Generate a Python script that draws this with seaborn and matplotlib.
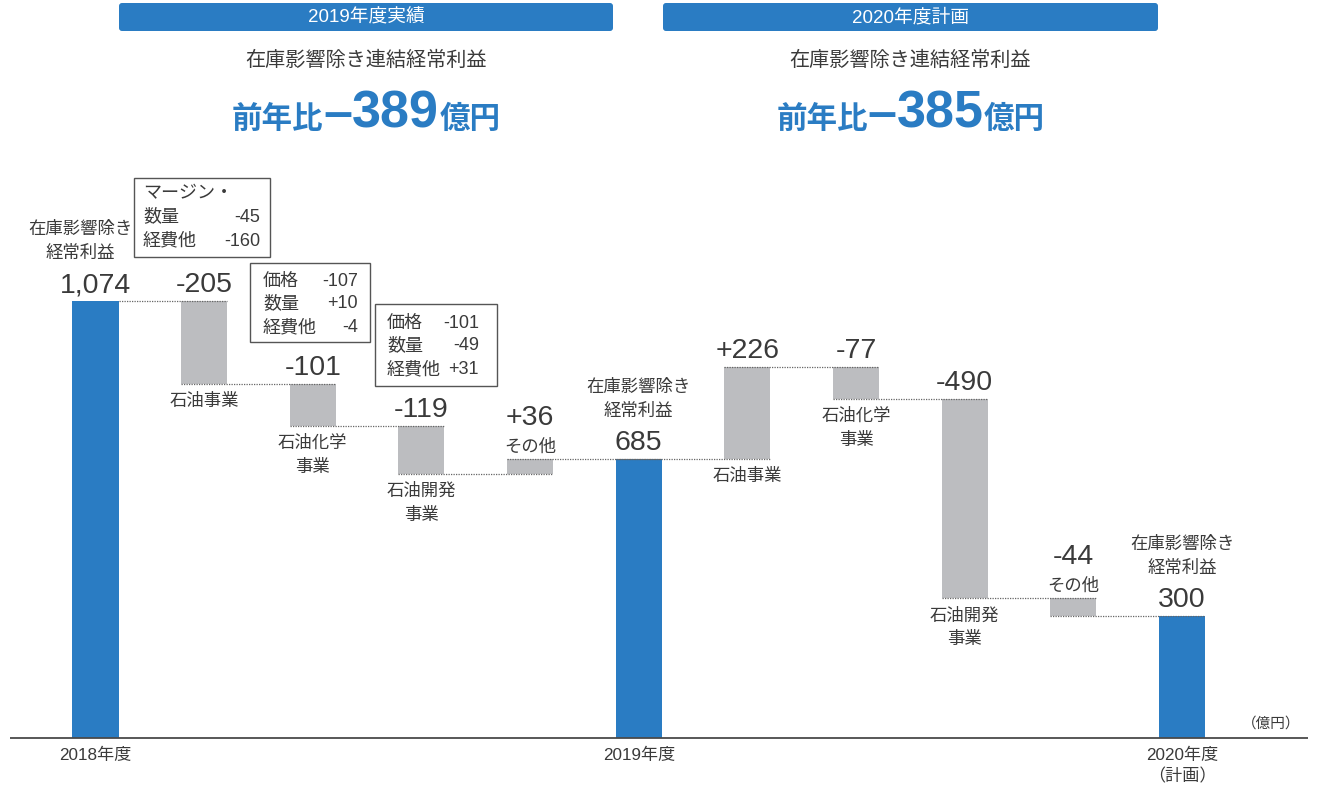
import matplotlib
matplotlib.use("Agg")
import matplotlib.pyplot as plt
import matplotlib.transforms as mtransforms
from matplotlib.patches import FancyBboxPatch, Rectangle
import pandas as pd
import seaborn as sns

# ---------------- data ----------------
start_label = "2018年度"
start_value = 1074
steps_2019_names = ["石油事業", "石油化学\n事業", "石油開発\n事業", "その他"]
steps_2019_values = [-205, -101, -119, 36]
mid_label = "2019年度"
mid_value = 685
steps_2020_names = ["石油事業", "石油化学\n事業", "石油開発\n事業", "その他"]
steps_2020_values = [226, -77, -490, -44]
end_label = "2020年度\n（計画）"
end_value = 300
total_caption = "在庫影響除き\n経常利益"
unit_label = "（億円）"
panel_headers = ["2019年度実績", "2020年度計画"]
panel_subtitle = "在庫影響除き連結経常利益"
panel_changes = [-389, -385]
box1_labels = ["マージン・", "数量", "経費他"]
box1_values = [None, -45, -160]
box2_labels = ["価格", "数量", "経費他"]
box2_values = [-107, 10, -4]
box3_labels = ["価格", "数量", "経費他"]
box3_values = [-101, -49, 31]

# ---------------- style ----------------
BLUE = "#2a7cc3"
GREY = "#bcbdc0"
TXT = "#3a3a3a"
W, H = 1342, 787
sns.set_theme(style="white")
plt.rcParams["font.family"] = ["Liberation Sans", "Noto Sans CJK JP"]
plt.rcParams["text.color"] = TXT

# ---------------- build waterfall table ----------------
rows = []
def add_total(label, value):
    rows.append(dict(kind="total", name=label, value=value, bottom=0, top=value, end=value))

def add_steps(start, names, values):
    running = start
    for n, v in zip(names, values):
        new = running + v
        rows.append(dict(kind="step", name=n, value=v, bottom=min(running, new),
                         top=max(running, new), end=new))
        running = new

add_total(start_label, start_value)
add_steps(start_value, steps_2019_names, steps_2019_values)
add_total(mid_label, mid_value)
add_steps(mid_value, steps_2020_names, steps_2020_values)
add_total(end_label, end_value)
df = pd.DataFrame(rows)
df["pos"] = range(len(df))

# ---------------- figure ----------------
fig = plt.figure(figsize=(W / 100, H / 100), dpi=100)
ax = fig.add_axes([0, 0, 1, 1])
px = mtransforms.Affine2D().scale(1 / W, -1 / H).translate(0, 1) + fig.transFigure

BW = 0.424
sns.barplot(data=df, x="pos", y="top", hue="kind", palette={"total": BLUE, "step": GREY},
            dodge=False, width=BW, legend=False, saturation=1, errorbar=None,
            linewidth=0, ax=ax, zorder=2)
sns.barplot(data=df, x="pos", y="bottom", color="white", width=BW + 0.02, saturation=1,
            errorbar=None, linewidth=0, ax=ax, zorder=2.5)

x_step = 108.65
x0_px = 95.5
base_px = 738.3
k = (base_px - 301.0) / start_value
ax.set_xlim(-x0_px / x_step, (W - x0_px) / x_step)
ax.set_ylim(-(H - base_px) / k, base_px / k)
ax.axis("off")

# connectors
n = len(df)
for i in range(n - 1):
    lvl = df["end"].iloc[i]
    xa = i - BW / 2 if i > 0 else i + BW / 2
    ax.hlines(lvl, xa, i + 1 + BW / 2, colors="#666666", linestyles=(0, (1, 1)),
              linewidth=0.9, zorder=3)

# baseline axis
ax.hlines(0, (10 - x0_px) / x_step, (1308 - x0_px) / x_step, colors="#4a4a4a",
          linewidth=1.3, zorder=4)

P = 0.72  # px -> pt

def put(x, y, text, dy, va, size, dx=0, **kw):
    ax.annotate(text, (x, y), xytext=(dx * P, dy * P), textcoords="offset points",
                ha="center", va=va, fontsize=size, color=TXT, annotation_clip=False, **kw)

VAL_FS = 20.5
CAP_FS = 12.5
for i, r in df.iterrows():
    pos = r["pos"]
    if r["kind"] == "total":
        put(pos, r["top"], f"{r['value']:,}", 9, "baseline", VAL_FS)
        dx = -15 if pos == 0 else 0
        for j, line in enumerate(reversed(total_caption.split("\n"))):
            put(pos, r["top"], line, 48 + 24 * j, "center", CAP_FS, dx=dx)
        for j, line in enumerate(r["name"].split("\n")):
            put(pos, 0, line, -(17 + 21 * j), "center", 12.3)
    else:
        txt = f"{r['value']:+d}"
        if r["name"] == "その他":
            put(pos, r["top"], txt, 34, "baseline", VAL_FS)
            put(pos, r["top"], r["name"], 13, "center", CAP_FS)
        else:
            put(pos, r["top"], txt, 9, "baseline", VAL_FS)
            for j, line in enumerate(r["name"].split("\n")):
                put(pos, r["bottom"], line, -(17 + 24 * j), "center", CAP_FS)

fig.text(1300, 724, unit_label, transform=px, ha="right", va="center", fontsize=10.5, color=TXT)

# breakdown boxes
def draw_box(rect, left, right, centers, labels, values):
    bx, by, bw, bh = rect
    fig.patches.append(Rectangle((bx, by), bw, bh, transform=px, fill=False,
                                 edgecolor="#555555", linewidth=1.0))
    for cy, lab, val in zip(centers, labels, values):
        fig.text(left, cy, lab, transform=px, ha="left", va="center", fontsize=13, color=TXT)
        if val is not None:
            fig.text(right, cy, f"{val:+d}", transform=px, ha="right", va="center",
                     fontsize=13, color=TXT)

draw_box((134, 178, 136, 79), 143, 260, [194, 217, 241], box1_labels, box1_values)
draw_box((250, 263, 120, 79), 263, 358, [281, 304, 328], box2_labels, box2_values)
draw_box((375, 304, 122, 82), 387, 479, [323, 346, 370], box3_labels, box3_values)

# panel headers
CJK_B = dict(family=["Noto Sans CJK JP"], weight="bold")
LAT_B = dict(family=["Liberation Sans"], weight="bold")
panels = [(119, 494), (663, 495)]
title_pieces = []
for (hx, hw), head, change in zip(panels, panel_headers, panel_changes):
    cx = hx + hw / 2
    fig.patches.append(FancyBboxPatch((hx, 3), hw, 28, boxstyle="round,pad=0,rounding_size=3",
                                      transform=px, facecolor=BLUE, edgecolor="none"))
    fig.text(cx, 17.5, head, transform=px, ha="center", va="center", fontsize=13.5, color="white")
    fig.text(cx, 60, panel_subtitle, transform=px, ha="center", va="center", fontsize=14.5, color=TXT)
    sign = "–" if change < 0 else "+"
    parts = [("前年比", 22, CJK_B), (sign, 37.5, LAT_B), (str(abs(change)), 37.5, LAT_B),
             ("億円", 22, CJK_B)]
    texts = [fig.text(0, 128, s, transform=px, ha="left", va="baseline", fontsize=fs,
                      color=BLUE, **props) for s, fs, props in parts]
    title_pieces.append((cx, texts))

fig.canvas.draw()
renderer = fig.canvas.get_renderer()
for cx, texts in title_pieces:
    widths = [t.get_window_extent(renderer).width for t in texts]
    x = cx - sum(widths) / 2
    for t, w in zip(texts, widths):
        t.set_x(x)
        x += w

fig.savefig("out.png", dpi=100)
